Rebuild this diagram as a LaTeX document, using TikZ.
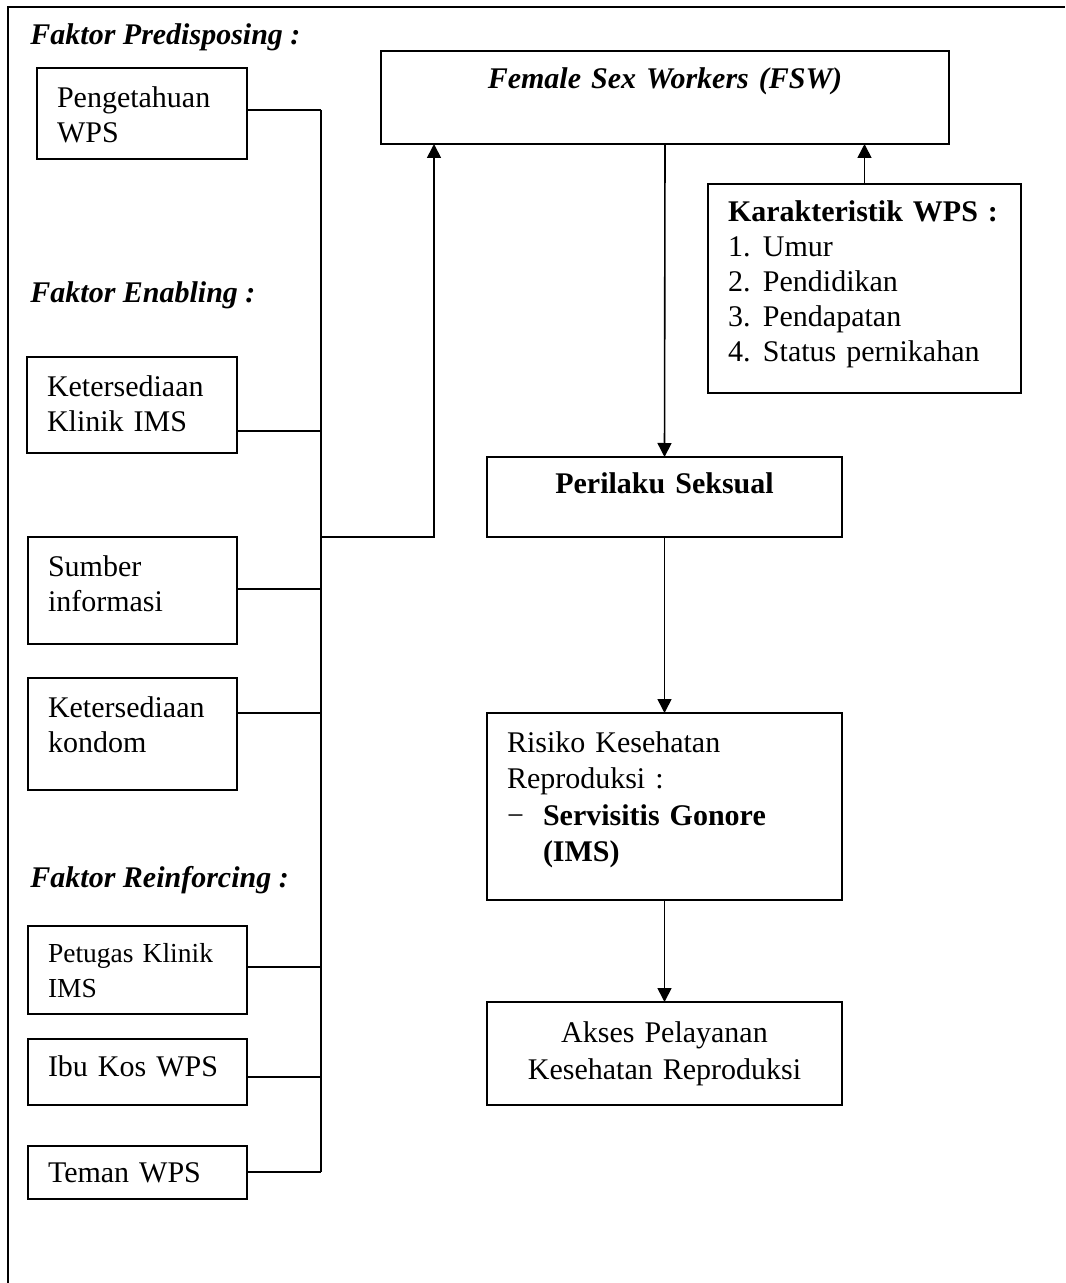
\documentclass[tikz,border=0pt]{standalone}
\usepackage{fontspec}
\setmainfont{Liberation Serif}
\usetikzlibrary{arrows.meta}

\begin{document}
\begin{tikzpicture}[x=0.5pt,y=-0.5pt,
    box/.style={draw,line width=0.8pt,outer sep=0pt,inner ysep=0pt,inner xsep=10pt,
      anchor=north west,align=left,font=\fontsize{15}{17.5}\selectfont},
    head/.style={anchor=base west,inner sep=0pt,font=\fontsize{15}{17.5}\selectfont\bfseries\itshape},
    link/.style={line width=0.8pt},
    arr/.style={link,-{Triangle[width=7pt,length=7pt]}}]
  \useasboundingbox (0,0) rectangle (1065,1283);
  \draw[link] (8,1283) -- (8,7) -- (1065,7);

  % left column
  \node[head] (hpre) at (30,45) {Faktor Predisposing :};
  \node[box,text width=85pt,text height=20pt,text depth=25.5pt] (peng) at (37,68) {Pengetahuan\\WPS};
  \node[head] (hena) at (30,303) {Faktor Enabling :};
  \node[box,text width=85pt,text height=19.5pt,text depth=28.5pt] (klinik) at (27,357) {Ketersediaan\\Klinik IMS};
  \node[box,text width=84.5pt,text height=19.5pt,text depth=34pt] (sumber) at (28,537) {Sumber\\informasi};
  \node[box,text width=84.5pt,text height=19.5pt,text depth=36.5pt] (kondom) at (28,678) {Ketersediaan\\kondom};
  \node[head] (hrei) at (30,887) {Faktor Reinforcing :};
  \node[box,text width=89.5pt,text height=18pt,text depth=26pt,
    font=\fontsize{13.75}{17.5}\selectfont] (petugas) at (28,926) {Petugas Klinik\\IMS};
  \node[box,text width=89.5pt,text height=18.5pt,text depth=14.5pt] (ibukos) at (28,1039) {Ibu Kos WPS};
  \node[box,text width=89.5pt,text height=18pt,text depth=8.5pt] (teman) at (28,1146) {Teman WPS};

  % right column
  \node[box,align=center,text width=264pt,text height=19pt,text depth=27.5pt,
    font=\fontsize{15}{17.5}\selectfont\bfseries\itshape] (fsw) at (381,51) {Female Sex Workers (FSW)};
  \node[box,text width=136.5pt,text height=19pt,text depth=85.5pt] (kar) at (708,184)
    {\textbf{Karakteristik WPS :}\\
     \makebox[17.5pt][l]{1.}Umur\\
     \makebox[17.5pt][l]{2.}Pendidikan\\
     \makebox[17.5pt][l]{3.}Pendapatan\\
     \makebox[17.5pt][l]{4.}Status pernikahan};
  \node[box,align=center,text width=157.5pt,text height=18pt,text depth=22pt,
    font=\fontsize{15}{17.5}\selectfont\bfseries] (per) at (487,457) {Perilaku Seksual};
  \node[box,text width=157.5pt,text height=19.5pt,text depth=74pt,
    font=\fontsize{15}{18.3}\selectfont] (ris) at (487,713)
    {Risiko Kesehatan\\
     Reproduksi :\\
     \makebox[18pt][l]{−}\textbf{Servisitis Gonore}\\
     \hspace*{18pt}\textbf{(IMS)}};
  \node[box,align=center,text width=157.5pt,text height=20pt,text depth=31.5pt,
    font=\fontsize{15}{18.5}\selectfont] (akses) at (487,1002) {Akses Pelayanan\\Kesehatan Reproduksi};

  % bus of the factors
  \coordinate (bustop) at (321,110);
  \coordinate (busjoin) at (321,537);
  \coordinate (busbot) at (321,1172);
  \draw[link] (bustop) -- (busbot);
  \draw[link] (peng.east |- bustop) -- (bustop);
  \draw[link] (klinik.east |- 0,431) -- (bustop |- 0,431);
  \draw[link] (sumber.east |- 0,589) -- (bustop |- 0,589);
  \draw[link] (kondom.east |- 0,713) -- (bustop |- 0,713);
  \draw[link] (petugas.east |- 0,967) -- (bustop |- 0,967);
  \draw[link] (ibukos.east |- 0,1077) -- (bustop |- 0,1077);
  \draw[link] (teman.east |- busbot) -- (busbot);

  \draw[arr] (busjoin) -| (fsw.south -| 434,0);
  \draw[arr] (kar.north) -- (kar.north |- fsw.south);
  \draw[arr] (fsw.south) -- (per.north);
  \draw[arr] (per.south) -- (ris.north);
  \draw[arr] (ris.south) -- (akses.north);
\end{tikzpicture}
\end{document}
